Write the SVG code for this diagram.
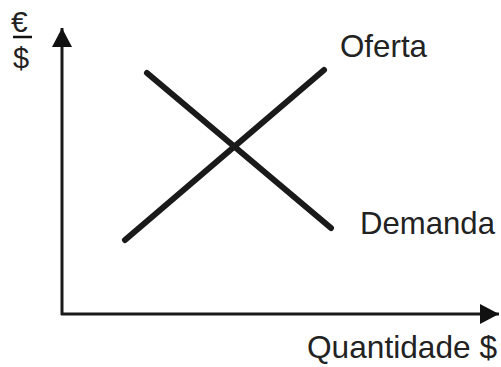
<svg xmlns="http://www.w3.org/2000/svg" width="501" height="367" viewBox="0 0 501 367">
<style>
text{font-family:"Liberation Sans",Arial,sans-serif;fill:#222;}
.lbl{font-size:30.5px;}
.ax{stroke:#1a1a1a;stroke-width:3;fill:none;}
.curve{stroke:#1a1a1a;stroke-width:6;stroke-linecap:round;fill:none;}
</style>
<defs>
<marker id="arr" markerUnits="userSpaceOnUse" markerWidth="20" markerHeight="20" refX="19" refY="10" orient="auto" viewBox="0 0 20 20">
<path d="M0,0 L19,10 L0,20 Z" fill="#111"/>
</marker>
</defs>
<g id="axes" class="connectors">
<line class="ax" x1="62" y1="315" x2="62" y2="28" marker-end="url(#arr)"/>
<line class="ax" x1="61" y1="314" x2="499" y2="314" marker-end="url(#arr)"/>
</g>
<g id="oferta">
<line class="curve" x1="125" y1="240" x2="324" y2="70"/>
<text class="lbl" x="340" y="57" textLength="87" lengthAdjust="spacingAndGlyphs">Oferta</text>
</g>
<g id="demanda">
<line class="curve" x1="147" y1="73" x2="331" y2="228"/>
<text class="lbl" x="360" y="234" textLength="135" lengthAdjust="spacingAndGlyphs">Demanda</text>
</g>
<g id="y-label">
<text x="11" y="32" font-size="30">€</text>
<line x1="13" y1="37" x2="32" y2="37" stroke="#111" stroke-width="2.5"/>
<text x="13" y="68" font-size="29">$</text>
</g>
<g id="x-label">
<text class="lbl" x="307" y="358" textLength="190" lengthAdjust="spacingAndGlyphs">Quantidade $</text>
</g>
</svg>
